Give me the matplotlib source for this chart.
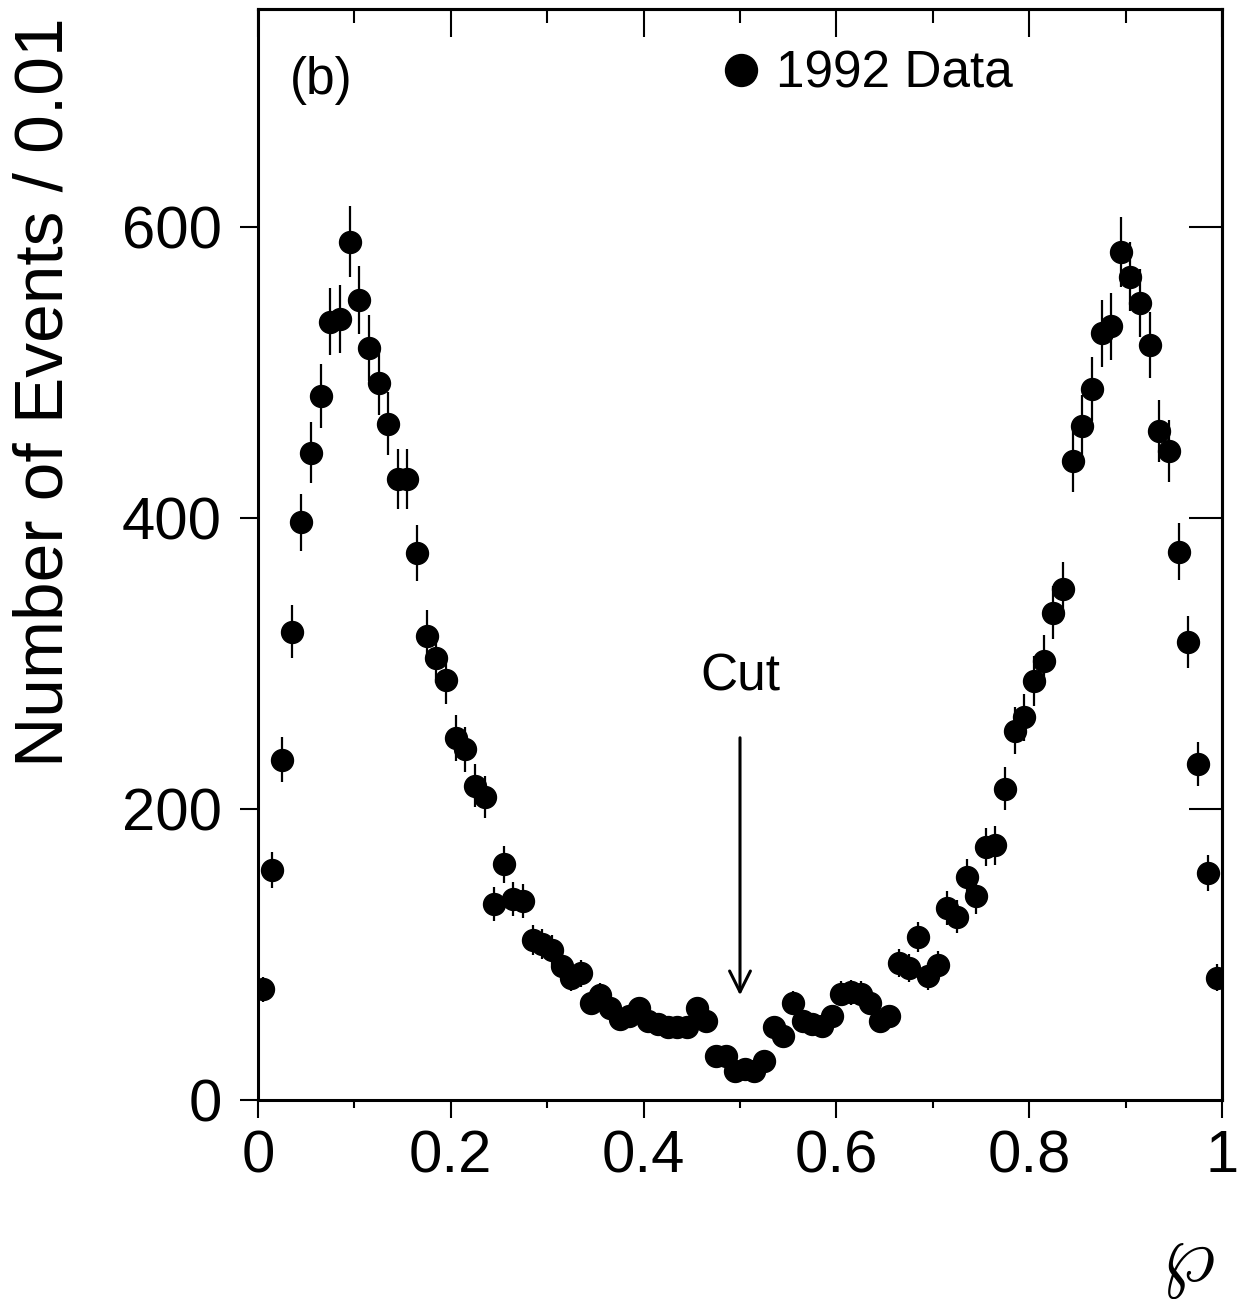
import numpy as np
import matplotlib
matplotlib.use("Agg")
import matplotlib.pyplot as plt
from matplotlib.lines import Line2D

plt.rcParams['font.family'] = ['Liberation Sans', 'DejaVu Sans']
plt.rcParams['mathtext.fontset'] = 'cm'

# Bin centres of the distribution (bin width 0.01)
bin_centers = np.arange(100) * 0.01 + 0.005

counts = [
    76, 158, 234, 322, 397, 445, 484, 535, 537, 590,
    550, 517, 493, 465, 427, 427, 376, 319, 304, 289,
    249, 241, 216, 208, 135, 162, 138, 137, 110, 107,
    103, 92, 84, 87, 67, 72, 63, 56, 58, 63,
    54, 52, 50, 50, 50, 63, 54, 30, 30, 20,
    21, 20, 27, 50, 44, 67, 54, 52, 51, 58,
    73, 74, 73, 67, 54, 58, 94, 91, 112, 85,
    93, 132, 126, 153, 140, 174, 175, 214, 254, 263,
    288, 302, 335, 351, 439, 463, 489, 527, 532, 583,
    566, 548, 519, 460, 446, 377, 315, 231, 156, 84,
]
errors = np.sqrt(counts)  # Poisson errors

xticks = [0, 0.2, 0.4, 0.6, 0.8, 1]
xticklabels = ['0', '0.2', '0.4', '0.6', '0.8', '1']
yticks = [0, 200, 400, 600]
yticklabels = ['0', '200', '400', '600']

cut_value = 0.5

fig = plt.figure(figsize=(12.39, 12.99), dpi=100)
ax = fig.add_axes([258/1239, 1 - 1100/1299, (1222-258)/1239, (1100-9)/1299])

ax.errorbar(bin_centers, counts, yerr=errors, fmt='o', color='black',
            ms=15.8, elinewidth=1.6, capsize=0, zorder=3)

ax.set_xlim(0, 1)
ax.set_ylim(0, 750)

for s in ax.spines.values():
    s.set_linewidth(2.2)

ax.set_xticks(xticks)
ax.set_xticklabels(xticklabels)
ax.set_xticks(np.arange(0.1, 1.0, 0.2), minor=True)
ax.set_yticks(yticks)
ax.set_yticklabels(yticklabels)
ax.tick_params(axis='x', which='major', direction='out', length=13, width=1.5,
               labelsize=43, pad=8)
ax.tick_params(axis='x', which='minor', direction='out', length=6, width=1.5)
ax.tick_params(axis='y', which='major', direction='out', length=13, width=1.5,
               labelsize=43, pad=13)

# top and right ticks pointing inward
top = ax.secondary_xaxis('top')
top.set_xticks(xticks)
top.set_xticks(np.arange(0.1, 1.0, 0.2), minor=True)
top.tick_params(which='major', direction='in', length=20, width=1.5, labeltop=False)
top.tick_params(which='minor', direction='in', length=10, width=1.5)
top.spines['top'].set_linewidth(2.2)
right = ax.secondary_yaxis('right')
right.set_yticks(yticks[1:])
right.tick_params(which='major', direction='in', length=24, width=1.5, labelright=False)
right.spines['right'].set_linewidth(2.2)

fig.text(45/1239, 1 - 392/1299, 'Number of Events / 0.01', rotation=90,
         ha='center', va='center', fontsize=50)
fig.text(1188/1239, 1 - 1262/1299, r'$\wp$', ha='center', va='center', fontsize=60)

ax.text(0.033, 701, '(b)', ha='left', va='center', fontsize=37)
ax.text(cut_value, 291, 'Cut', ha='center', va='center', fontsize=37)
ax.annotate('', xy=(cut_value, 72), xytext=(cut_value, 249),
            arrowprops=dict(arrowstyle='->,head_length=0.5,head_width=0.25',
                            lw=2.2, color='black', mutation_scale=30,
                            shrinkA=0, shrinkB=0))

handle = Line2D([], [], marker='o', ls='', color='black', ms=23)
ax.legend([handle], ['1992 Data'], loc='center left', bbox_to_anchor=(0.480, 0.940),
          frameon=False, fontsize=37, handlelength=0.8, handletextpad=0.27,
          borderpad=0, borderaxespad=0)

fig.savefig('out.png', dpi=100)
